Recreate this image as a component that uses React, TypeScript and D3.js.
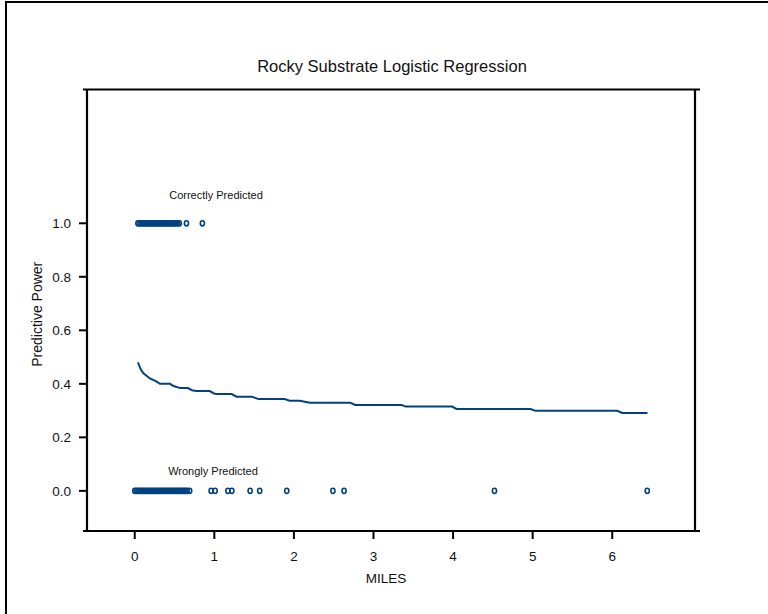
import React from "react";
import * as d3 from "d3";

const title = "Rocky Substrate Logistic Regression";
const xLabel = "MILES";
const yLabel = "Predictive Power";
const xTicks = [0, 1, 2, 3, 4, 5, 6];
const yTicks = [0, 0.2, 0.4, 0.6, 0.8, 1.0];

// observations correctly predicted (plotted at 1.0)
const correctMiles = [
  0.04, 0.06, 0.08, 0.1, 0.12, 0.14, 0.16, 0.18, 0.2, 0.22, 0.24, 0.26, 0.28,
  0.3, 0.32, 0.34, 0.36, 0.38, 0.4, 0.42, 0.44, 0.46, 0.48, 0.5, 0.52, 0.54,
  0.56, 0.65, 0.85,
];
// observations wrongly predicted (plotted at 0.0)
const wrongMiles = [
  0.0, 0.02, 0.04, 0.06, 0.08, 0.1, 0.12, 0.14, 0.16, 0.18, 0.2, 0.22, 0.24,
  0.26, 0.28, 0.3, 0.32, 0.34, 0.36, 0.38, 0.4, 0.42, 0.44, 0.46, 0.48, 0.5,
  0.52, 0.54, 0.56, 0.58, 0.6, 0.62, 0.64, 0.66, 0.69, 0.96, 1.01, 1.17, 1.22,
  1.45, 1.57, 1.91, 2.49, 2.63, 4.52, 6.44,
];
// fitted logistic curve
const curveMiles = [
  0.04, 0.074, 0.106, 0.148, 0.19, 0.265, 0.317, 0.444, 0.487, 0.571, 0.667,
  0.72, 0.772, 0.942, 0.995, 1.026, 1.217, 1.28, 1.471, 1.555, 1.883, 1.947,
  2.074, 2.2, 2.709, 2.772, 3.354, 3.407, 3.989, 4.042, 4.973, 5.036, 6.062,
  6.126, 6.443,
];
const curvePower = [
  0.48, 0.455, 0.44, 0.43, 0.42, 0.41, 0.4, 0.4, 0.392, 0.384, 0.384, 0.376,
  0.373, 0.373, 0.364, 0.362, 0.362, 0.352, 0.352, 0.343, 0.343, 0.337, 0.337,
  0.329, 0.329, 0.321, 0.321, 0.315, 0.315, 0.306, 0.306, 0.299, 0.299, 0.291,
  0.291,
];

const BLUE = "#00427f";
const FONT = "Liberation Sans, Arial, sans-serif";

export default function App() {
  const x = d3.scaleLinear().domain([-0.6, 7.04]).range([87, 695]);
  const y = d3.scaleLinear().domain([-0.15, 1.5]).range([531, 89.5]);
  const line = d3
    .line<number>()
    .x((d, i) => x(curveMiles[i]))
    .y((d) => y(d));
  const [x0, x1] = x.range();
  const [yb, yt] = y.range();

  const marker = (m: number, v: number, k: string) => (
    <ellipse
      key={k}
      cx={x(m)}
      cy={y(v)}
      rx={2.1}
      ry={2.6}
      fill="none"
      stroke={BLUE}
      strokeWidth={1.6}
    />
  );

  return (
    <svg
      width={768}
      height={614}
      style={{ position: "absolute", left: 0, top: 0, background: "#fff" }}
      fontFamily={FONT}
    >
      <rect x={6} y={2} width={800} height={700} fill="none" stroke="#000" strokeWidth={2} />
      <text x={392} y={72} textAnchor="middle" fontSize={16.5} fill="#111">
        {title}
      </text>
      {/* frame */}
      <g stroke="#000" strokeWidth={2.2} fill="none">
        <line x1={x0 - 4} x2={x1 + 5} y1={yt} y2={yt} />
        <line x1={x0 - 4} x2={x1 + 5} y1={yb} y2={yb} />
        <line x1={x0} x2={x0} y1={yt} y2={yb} />
        <line x1={x1} x2={x1} y1={yt} y2={yb} />
      </g>
      {yTicks.map((t) => (
        <g key={"y" + t}>
          <line x1={x0 - 8} x2={x0} y1={y(t)} y2={y(t)} stroke="#000" strokeWidth={2} />
          <text x={x0 - 16} y={y(t) + 5} textAnchor="end" fontSize={13.5} fill="#111">
            {t.toFixed(1)}
          </text>
        </g>
      ))}
      {xTicks.map((t) => (
        <g key={"x" + t}>
          <line x1={x(t)} x2={x(t)} y1={yb} y2={yb + 8} stroke="#000" strokeWidth={2} />
          <text x={x(t)} y={yb + 30} textAnchor="middle" fontSize={13.5} fill="#111">
            {t}
          </text>
        </g>
      ))}
      <text x={386} y={583} textAnchor="middle" fontSize={13.5} fill="#111">
        {xLabel}
      </text>
      <text
        transform={`translate(42,${(yt + yb) / 2 + 4}) rotate(-90)`}
        textAnchor="middle"
        fontSize={14}
        fill="#111"
      >
        {yLabel}
      </text>
      <path d={line(curvePower) || ""} fill="none" stroke={BLUE} strokeWidth={2} />
      {correctMiles.map((m, i) => marker(m, 1, "c" + i))}
      {wrongMiles.map((m, i) => marker(m, 0, "w" + i))}
      <text x={216} y={199} textAnchor="middle" fontSize={11} fill="#111">
        Correctly Predicted
      </text>
      <text x={213} y={475} textAnchor="middle" fontSize={11} fill="#111">
        Wrongly Predicted
      </text>
    </svg>
  );
}
